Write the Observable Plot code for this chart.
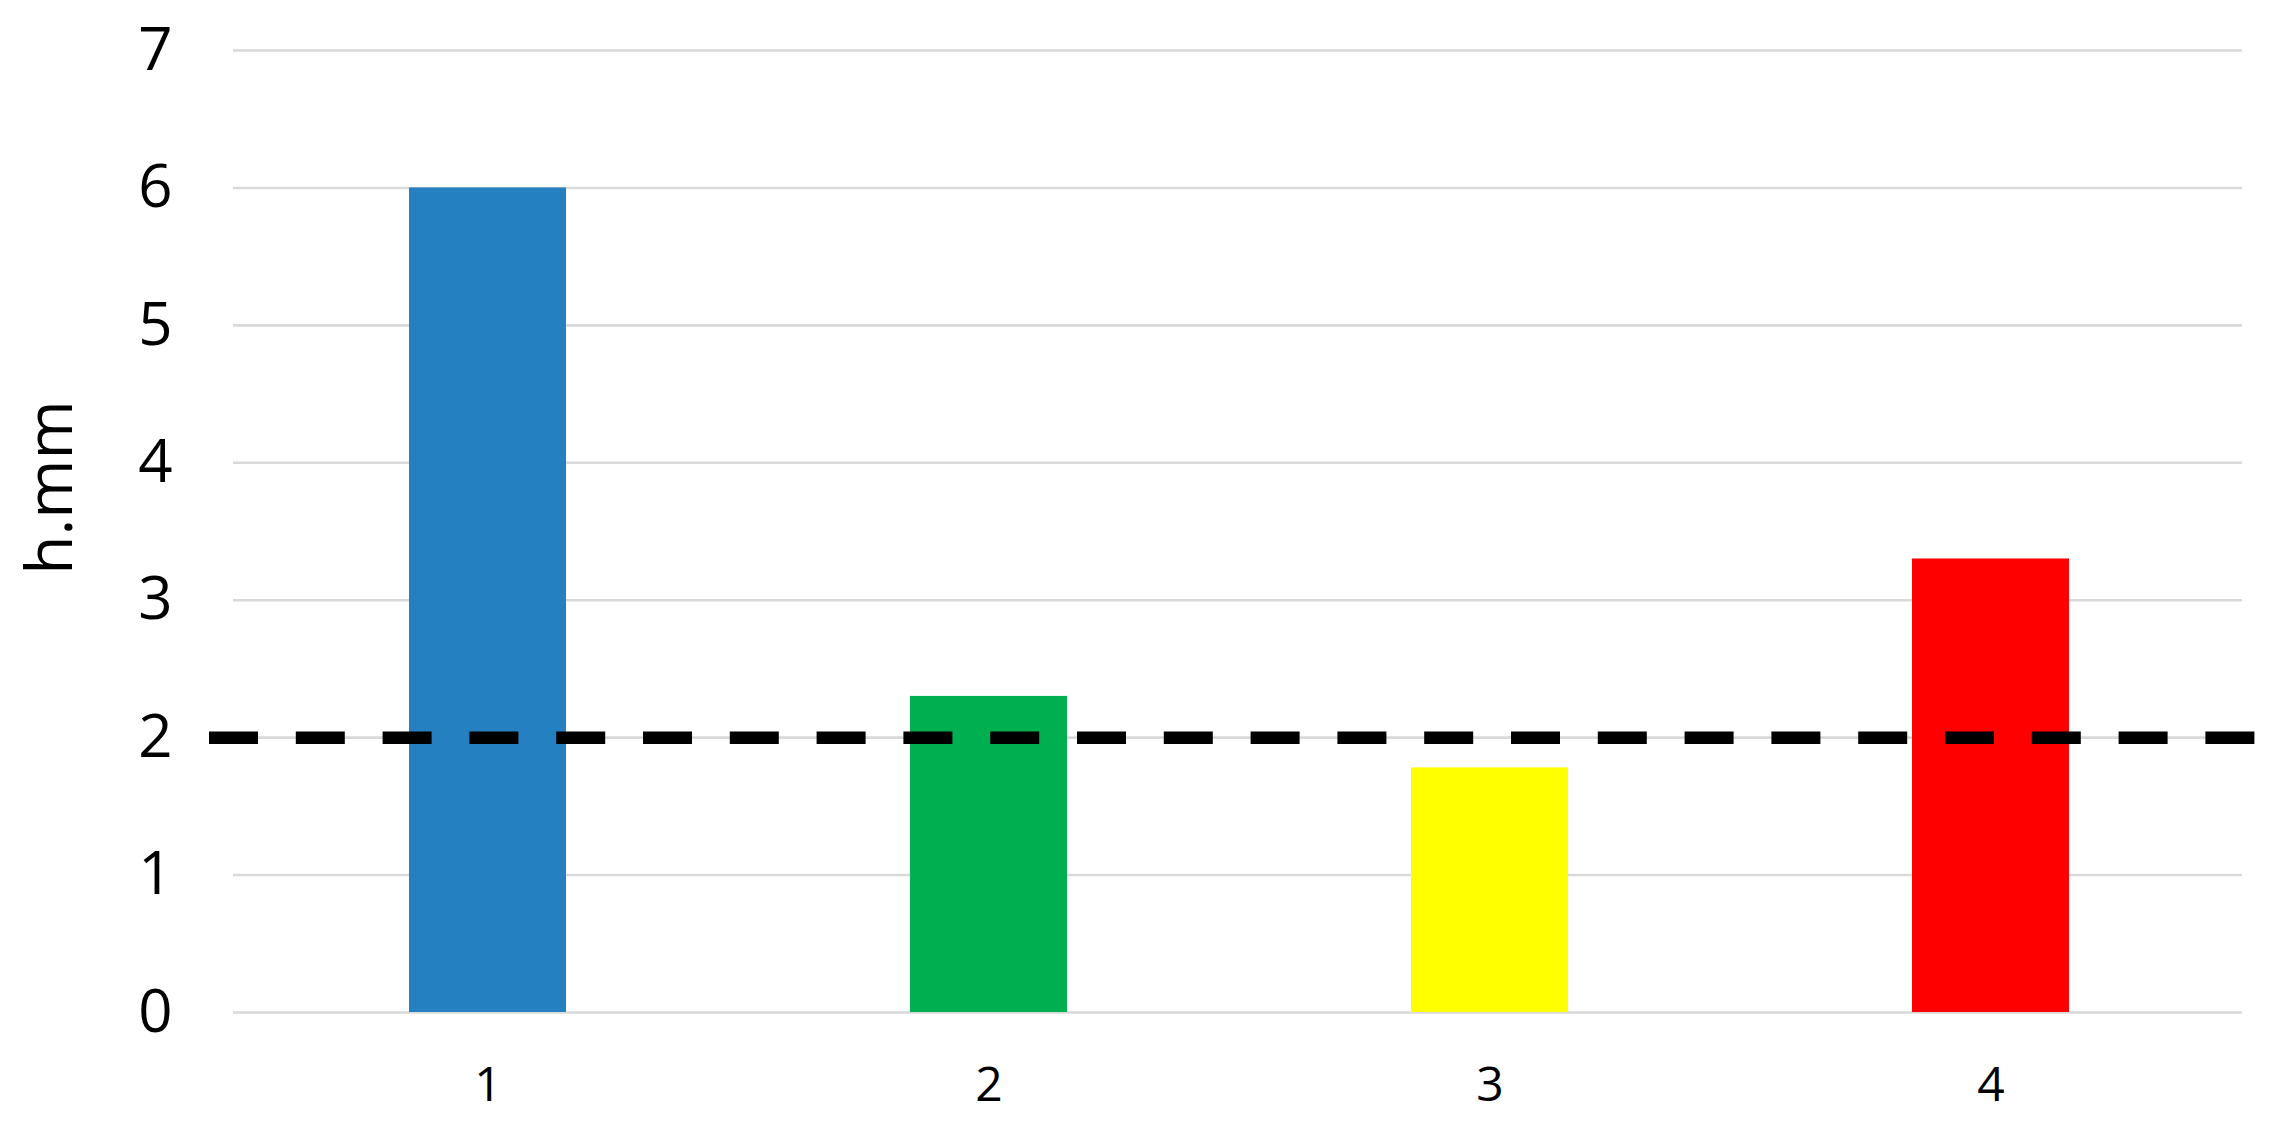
<!DOCTYPE html>
<html>
<head>
<meta charset="utf-8">
<script src="https://cdn.jsdelivr.net/npm/d3@7"></script>
<script src="https://cdn.jsdelivr.net/npm/@observablehq/plot@0.6"></script>
<style>
  html, body { margin: 0; padding: 0; background: #fff; }
  #chart svg { display: block; }
</style>
</head>
<body>
<div id="chart"></div>
<script>
const categories = ["1", "2", "3", "4"];
const values = [6.0, 2.3, 1.78, 3.3];
const barColors = ["#2580c1", "#00b050", "#ffff00", "#ff0000"];
const yTicks = [0, 1, 2, 3, 4, 5, 6, 7];
const threshold = [2];
const yLabel = ["h.mm"];

const data = categories.map((c, i) => ({category: c, value: values[i]}));

const chart = Plot.plot({
  width: 2283,
  height: 1121,
  marginLeft: 233,
  marginRight: 41,
  marginTop: 50,
  marginBottom: 109,
  style: {fontFamily: "'Open Sans', sans-serif", color: "#000", background: "#fff"},
  x: {domain: categories, range: [236, 2241], paddingInner: 0.687, paddingOuter: 0.3435, label: null},
  y: {domain: [0, 7], label: null},
  color: {domain: categories, range: barColors},
  marks: [
    Plot.gridY(yTicks, {stroke: "#d9d9d9", strokeOpacity: 1, strokeWidth: 2.6}),
    Plot.barY(data, {x: "category", y: "value", fill: "category"}),
    Plot.ruleY(threshold, {stroke: "#000", strokeWidth: 12.5, strokeDasharray: "49,37.8", insetLeft: -24, insetRight: -14}),
    Plot.axisY(yTicks, {tickSize: 0, tickPadding: 61, fontSize: 60, tickFormat: d => String(d), label: null}),
    Plot.axisX({tickSize: 0, tickPadding: 54, fontSize: 48, label: null}),
    Plot.text(yLabel, {frameAnchor: "left", textAnchor: "middle", rotate: -90, dx: -182, dy: -44, fontSize: 64, fill: "#000"})
  ]
});
document.getElementById("chart").appendChild(chart);
</script>
</body>
</html>
